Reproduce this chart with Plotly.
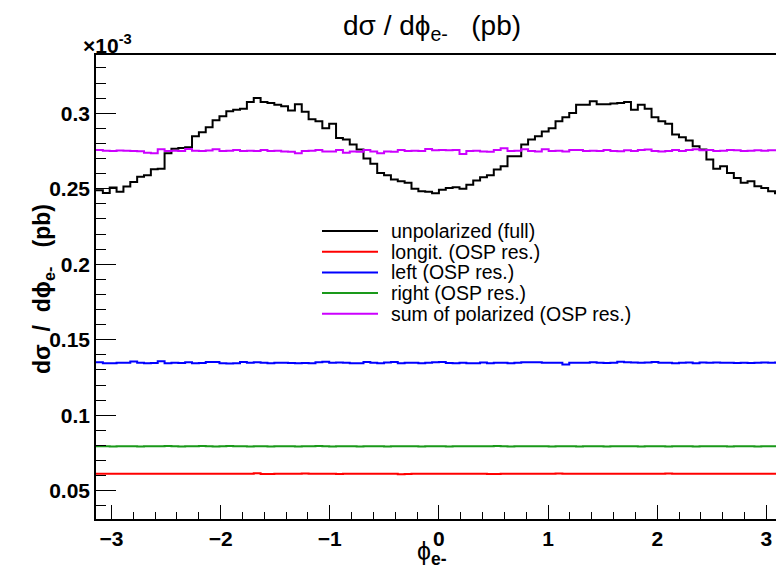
import numpy as np
import plotly.graph_objects as go

# 100 bins in phi_e- from -pi to pi; values in units of 1e-3 pb
n_bins = 100
phi_min, phi_max = -np.pi, np.pi

unpolarized = [
    0.2490, 0.2472, 0.2508, 0.2480, 0.2515, 0.2545, 0.2580, 0.2590, 0.2630, 0.2632,
    0.2735, 0.2765, 0.2770, 0.2775, 0.2848, 0.2875, 0.2908, 0.2953, 0.2980, 0.3013,
    0.3024, 0.3030, 0.3075, 0.3101, 0.3075, 0.3068, 0.3057, 0.3046, 0.3018, 0.3060,
    0.3010, 0.2960, 0.2947, 0.2900, 0.2930, 0.2837, 0.2826, 0.2793, 0.2760, 0.2700,
    0.2665, 0.2605, 0.2590, 0.2561, 0.2550, 0.2540, 0.2500, 0.2483, 0.2480, 0.2470,
    0.2494, 0.2505, 0.2510, 0.2500, 0.2527, 0.2554, 0.2576, 0.2590, 0.2627, 0.2649,
    0.2715, 0.2715, 0.2793, 0.2826, 0.2848, 0.2880, 0.2900, 0.2947, 0.2974, 0.3002,
    0.3057, 0.3057, 0.3080, 0.3060, 0.3060, 0.3064, 0.3068, 0.3075, 0.3024, 0.3057,
    0.3030, 0.2974, 0.2947, 0.2930, 0.2859, 0.2841, 0.2820, 0.2782, 0.2760, 0.2693,
    0.2633, 0.2649, 0.2605, 0.2572, 0.2540, 0.2550, 0.2516, 0.2505, 0.2483, 0.2470,
]

sum_polarized = [
    0.2757, 0.2752, 0.2750, 0.2754, 0.2752, 0.2750, 0.2749, 0.2738, 0.2735, 0.2762,
    0.2750, 0.2752, 0.2750, 0.2763, 0.2752, 0.2750, 0.2753, 0.2762, 0.2750, 0.2751,
    0.2757, 0.2750, 0.2752, 0.2750, 0.2757, 0.2750, 0.2751, 0.2746, 0.2745, 0.2736,
    0.2750, 0.2752, 0.2757, 0.2746, 0.2747, 0.2757, 0.2738, 0.2746, 0.2745, 0.2757,
    0.2746, 0.2735, 0.2746, 0.2745, 0.2757, 0.2750, 0.2752, 0.2750, 0.2763, 0.2755,
    0.2756, 0.2755, 0.2757, 0.2730, 0.2750, 0.2752, 0.2746, 0.2745, 0.2757, 0.2768,
    0.2750, 0.2752, 0.2762, 0.2750, 0.2746, 0.2762, 0.2750, 0.2751, 0.2746, 0.2757,
    0.2756, 0.2750, 0.2752, 0.2750, 0.2757, 0.2750, 0.2748, 0.2755, 0.2750, 0.2757,
    0.2760, 0.2750, 0.2746, 0.2750, 0.2757, 0.2750, 0.2757, 0.2762, 0.2755, 0.2757,
    0.2750, 0.2752, 0.2757, 0.2755, 0.2750, 0.2752, 0.2755, 0.2752, 0.2755, 0.2755,
]

left = [
    0.1350, 0.1345, 0.1345, 0.1347, 0.1348, 0.1355, 0.1348, 0.1344, 0.1346, 0.1357,
    0.1345, 0.1348, 0.1346, 0.1350, 0.1345, 0.1346, 0.1353, 0.1352, 0.1344, 0.1343,
    0.1345, 0.1352, 0.1347, 0.1350, 0.1348, 0.1345, 0.1348, 0.1348, 0.1346, 0.1345,
    0.1346, 0.1345, 0.1350, 0.1354, 0.1348, 0.1349, 0.1347, 0.1345, 0.1344, 0.1353,
    0.1348, 0.1345, 0.1349, 0.1352, 0.1344, 0.1347, 0.1348, 0.1345, 0.1347, 0.1350,
    0.1352, 0.1346, 0.1345, 0.1348, 0.1345, 0.1345, 0.1349, 0.1344, 0.1347, 0.1348,
    0.1345, 0.1348, 0.1350, 0.1351, 0.1350, 0.1348, 0.1348, 0.1347, 0.1336, 0.1348,
    0.1348, 0.1347, 0.1350, 0.1348, 0.1346, 0.1348, 0.1354, 0.1350, 0.1349, 0.1348,
    0.1349, 0.1352, 0.1348, 0.1347, 0.1345, 0.1348, 0.1349, 0.1345, 0.1349, 0.1348,
    0.1349, 0.1348, 0.1347, 0.1346, 0.1347, 0.1346, 0.1347, 0.1349, 0.1347, 0.1349,
]

right = [
    0.0794, 0.0795, 0.0793, 0.0794, 0.0795, 0.0794, 0.0793, 0.0794, 0.0795, 0.0794,
    0.0796, 0.0794, 0.0793, 0.0794, 0.0795, 0.0796, 0.0794, 0.0793, 0.0794, 0.0796,
    0.0795, 0.0794, 0.0793, 0.0795, 0.0794, 0.0793, 0.0794, 0.0795, 0.0794, 0.0793,
    0.0794, 0.0795, 0.0796, 0.0794, 0.0793, 0.0794, 0.0795, 0.0794, 0.0793, 0.0794,
    0.0795, 0.0794, 0.0793, 0.0794, 0.0795, 0.0794, 0.0794, 0.0793, 0.0794, 0.0795,
    0.0794, 0.0793, 0.0794, 0.0795, 0.0794, 0.0794, 0.0795, 0.0794, 0.0796, 0.0794,
    0.0793, 0.0794, 0.0795, 0.0794, 0.0795, 0.0794, 0.0793, 0.0794, 0.0795, 0.0794,
    0.0793, 0.0794, 0.0795, 0.0794, 0.0793, 0.0794, 0.0795, 0.0794, 0.0794, 0.0793,
    0.0794, 0.0795, 0.0794, 0.0793, 0.0794, 0.0795, 0.0794, 0.0793, 0.0794, 0.0795,
    0.0794, 0.0794, 0.0793, 0.0794, 0.0795, 0.0794, 0.0793, 0.0794, 0.0794, 0.0794,
]

longit = [
    0.0612, 0.0613, 0.0612, 0.0613, 0.0612, 0.0612, 0.0613, 0.0612, 0.0612, 0.0613,
    0.0612, 0.0612, 0.0613, 0.0612, 0.0612, 0.0613, 0.0612, 0.0612, 0.0613, 0.0612,
    0.0612, 0.0613, 0.0612, 0.0615, 0.0610, 0.0611, 0.0612, 0.0613, 0.0612, 0.0613,
    0.0614, 0.0613, 0.0612, 0.0613, 0.0612, 0.0611, 0.0612, 0.0613, 0.0612, 0.0613,
    0.0612, 0.0612, 0.0613, 0.0612, 0.0609, 0.0610, 0.0612, 0.0613, 0.0612, 0.0612,
    0.0613, 0.0612, 0.0612, 0.0613, 0.0612, 0.0612, 0.0613, 0.0611, 0.0610, 0.0612,
    0.0613, 0.0612, 0.0612, 0.0613, 0.0612, 0.0612, 0.0613, 0.0614, 0.0612, 0.0612,
    0.0613, 0.0612, 0.0612, 0.0613, 0.0612, 0.0612, 0.0613, 0.0612, 0.0612, 0.0613,
    0.0612, 0.0612, 0.0613, 0.0614, 0.0612, 0.0612, 0.0613, 0.0612, 0.0612, 0.0613,
    0.0612, 0.0613, 0.0612, 0.0612, 0.0613, 0.0612, 0.0612, 0.0613, 0.0612, 0.0612,
]

series_labels = [
    "unpolarized (full)",
    "longit. (OSP res.)",
    "left (OSP res.)",
    "right (OSP res.)",
    "sum of polarized (OSP res.)",
]
series_values = [unpolarized, longit, left, right, sum_polarized]
series_colors = ["#000000", "#ff0000", "#0000ff", "#1a991a", "#cc00ff"]

y_ticks = [0.05, 0.1, 0.15, 0.2, 0.25, 0.3]
y_tick_labels = ["0.05", "0.1", "0.15", "0.2", "0.25", "0.3"]
x_ticks = [-3, -2, -1, 0, 1, 2, 3]
x_tick_labels = ["\u22123", "\u22122", "\u22121", "0", "1", "2", "3"]

edges = np.linspace(phi_min, phi_max, n_bins + 1)

FONT = "Liberation Sans, Arial, Helvetica, DejaVu Sans, sans-serif"
PHI = "\u03d5"
SP = "\u00a0"

fig = go.Figure()
for label, vals, col in zip(series_labels, series_values, series_colors):
    y = list(vals) + [vals[-1]]
    fig.add_trace(go.Scatter(
        x=edges, y=y, mode="lines", line=dict(color=col, width=2, shape="hv"),
        name=label, showlegend=False, hoverinfo="skip"))

# ROOT-like legend without a box
leg_x0, leg_x1, leg_tx = (322 - 96) / 680, (378 - 96) / 680, (389 - 96) / 680
leg_y = [1 - (231 - 55) / 464 - i * (20.7 / 464) for i in range(len(series_labels))]
for label, col, yy in zip(series_labels, series_colors, leg_y):
    fig.add_shape(type="line", xref="paper", yref="paper", x0=leg_x0, x1=leg_x1,
                  y0=yy, y1=yy, line=dict(color=col, width=2))
    fig.add_annotation(xref="paper", yref="paper", x=leg_tx, y=yy, text=label,
                       showarrow=False, xanchor="left", yanchor="middle",
                       font=dict(family=FONT, size=19.5, color="#000000"))

# title
fig.add_annotation(xref="paper", yref="paper", x=(432 - 96) / 680, y=1 + (55 - 27) / 464,
                   text="d\u03c3 / d" + PHI + "<sub>e-</sub>" + SP * 3 + "(pb)", showarrow=False,
                   xanchor="center", yanchor="middle",
                   font=dict(family=FONT, size=28, color="#000000"))
# exponent
fig.add_annotation(xref="paper", yref="paper", x=(81 - 96) / 680, y=1 + (55 - 44) / 464,
                   text="<b>\u00d710<sup>-3</sup></b>", showarrow=False,
                   xanchor="left", yanchor="middle",
                   font=dict(family=FONT, size=21, color="#000000"))
# y title
fig.add_annotation(xref="paper", yref="paper", x=(43 - 96) / 680, y=1 - (289 - 55) / 464,
                   text="<b>d\u03c3" + SP * 2 + "/" + SP * 2 + "d" + PHI + "<sub>e-</sub>" + SP * 3 + "(pb)</b>",
                   showarrow=False, textangle=-90, xanchor="center", yanchor="middle",
                   font=dict(family=FONT, size=23, color="#000000"))
# x title
fig.add_annotation(xref="paper", yref="paper", x=(432 - 96) / 680, y=-(553 - 519) / 464,
                   text=PHI + "<sub><b>e-</b></sub>", showarrow=False,
                   xanchor="center", yanchor="middle",
                   font=dict(family=FONT, size=25, color="#000000"))

fig.update_layout(
    width=776, height=574,
    margin=dict(l=96, r=0, t=55, b=55),
    paper_bgcolor="white", plot_bgcolor="white",
    font=dict(family=FONT, color="#000000"),
    xaxis=dict(
        range=[phi_min, 3.088], showgrid=False, zeroline=False,
        showline=True, linecolor="black", linewidth=1.5, mirror=True,
        ticks="inside", ticklen=14, tickwidth=1, tickcolor="black",
        tickmode="array", tickvals=x_ticks, ticktext=x_tick_labels,
        tickfont=dict(family=FONT, size=21, color="black", weight="bold"),
        minor=dict(dtick=0.2, tick0=0, ticks="inside", ticklen=7, tickwidth=1, tickcolor="black"),
    ),
    yaxis=dict(
        range=[0.03125, 0.3386], showgrid=False, zeroline=False,
        showline=True, linecolor="black", linewidth=1.5, mirror=False,
        ticks="inside", ticklen=20, tickwidth=1, tickcolor="black",
        tickmode="array", tickvals=y_ticks, ticktext=y_tick_labels,
        tickfont=dict(family=FONT, size=21, color="black", weight="bold"),
        minor=dict(dtick=0.01, tick0=0, ticks="inside", ticklen=10, tickwidth=1, tickcolor="black"),
    ),
)

fig.write_html("out.html")
